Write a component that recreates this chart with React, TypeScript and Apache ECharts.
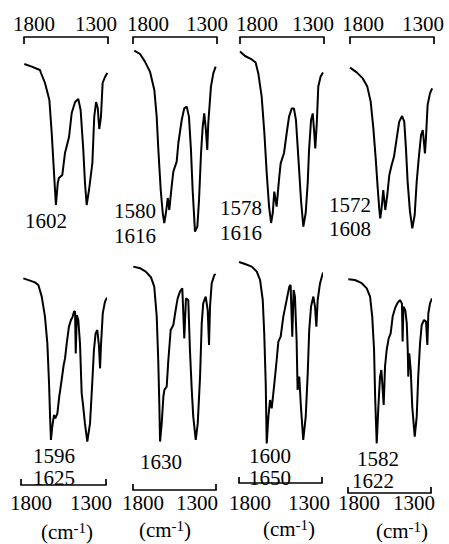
import React, { useEffect, useRef } from "react";
import * as echarts from "echarts";

// Spectra: [wavenumber (cm-1), relative transmittance]
const spectrum1 = [[1798,88],[1754,86.7],[1705,85],[1699,83.5],[1675,78.5],[1649,70],[1635,53.5],[1620,31.5],[1610,17.5],[1599,28.5],[1592,31],[1572,32.5],[1556,43.5],[1532,51.5],[1516,63.5],[1496,69],[1477,70.5],[1463,65],[1447,45],[1437,28.5],[1427,17.5],[1413,25],[1393,38.5],[1382,61.5],[1371,69],[1361,66],[1352,55.5],[1342,61.5],[1332,78.5],[1318,81.5],[1304,83.5]];
const spectrum2 = [[1792,94.7],[1758,93],[1729,89.2],[1699,84.2],[1673,75],[1659,61.7],[1649,45],[1635,25],[1623,13.5],[1614,8.5],[1604,13.5],[1593,21],[1584,15],[1570,26.7],[1560,34.2],[1540,39.2],[1530,48.5],[1510,60],[1495,65.8],[1480,66.7],[1467,61.7],[1455,45],[1445,25],[1431,4.2],[1417,6.7],[1407,20],[1395,43.5],[1385,56.7],[1376,63.3],[1366,55],[1358,45],[1352,58.3],[1336,76.7],[1322,83.3],[1308,86.7]];
const spectrum3 = [[1800,94.2],[1770,92],[1730,90.3],[1707,88.7],[1691,83.3],[1671,71.7],[1655,53.5],[1641,33.5],[1627,16.7],[1615,8.5],[1605,13.5],[1596,24.2],[1582,16.7],[1568,30],[1558,38.3],[1538,43.5],[1522,53.5],[1508,61.7],[1492,65.8],[1479,65.8],[1467,60],[1453,41.7],[1437,20],[1423,6.7],[1409,13.5],[1397,28.5],[1389,45],[1377,60],[1367,63.3],[1358,53.5],[1352,45.8],[1343,58.3],[1334,76.7],[1320,81.7],[1306,83.7]];
const spectrum4 = [[1800,86.2],[1760,83.8],[1724,80.8],[1697,76.7],[1677,69.2],[1661,55.8],[1647,40.8],[1635,25.8],[1626,15.8],[1620,10.8],[1612,15.8],[1602,25],[1590,15],[1578,22.5],[1566,32.5],[1552,37.5],[1538,41.7],[1522,50.8],[1507,59.2],[1490,62],[1477,59.2],[1467,45.8],[1457,29.2],[1443,14.2],[1429,5.8],[1415,12.5],[1403,29.2],[1389,42.5],[1377,52.5],[1367,55],[1360,49.2],[1354,43.3],[1348,50.8],[1338,67.5],[1324,73.3],[1311,75.8]];
const spectrum5 = [[1786,91.8],[1747,90.7],[1718,89.8],[1698,88.5],[1678,82.7],[1659,72.7],[1645,59.3],[1635,39.3],[1629,22.7],[1624,11],[1616,17.7],[1606,23.5],[1598,21.8],[1586,24.3],[1575,32.7],[1561,41],[1549,48.5],[1541,51.8],[1531,59.3],[1518,67.7],[1506,71],[1496,72.7],[1488,75.2],[1482,75.2],[1478,54.3],[1472,73.5],[1463,71],[1453,59.3],[1443,34.3],[1434,27.7],[1424,19.3],[1410,10.2],[1394,19.3],[1381,39.3],[1371,56],[1361,64.3],[1351,66],[1341,57.7],[1335,46.8],[1329,59.3],[1319,74.3],[1306,80.2],[1294,82.2]];
const spectrum6 = [[1798,97.7],[1758,96.9],[1723,95.2],[1692,92.4],[1672,87.7],[1657,72.7],[1648,51],[1642,31],[1637,10.2],[1627,19.3],[1617,32.7],[1611,36],[1597,37.7],[1587,51],[1573,66],[1557,68.5],[1543,76],[1531,81.8],[1517,85.2],[1503,86.8],[1491,61.8],[1481,81.8],[1467,81],[1457,56],[1446,36],[1437,22.7],[1422,11],[1410,19.3],[1396,42.7],[1386,69.3],[1377,79.3],[1362,82.7],[1350,76],[1342,58.5],[1336,77.7],[1326,89.3],[1310,93.5],[1302,94]];
const spectrum7 = [[1800,100],[1764,99],[1723,97.7],[1693,95.2],[1673,91],[1657,81],[1648,64.3],[1639,39.3],[1633,9.3],[1623,22.7],[1613,31],[1603,26.8],[1589,37.7],[1573,51],[1563,60.2],[1549,62.7],[1533,72.7],[1513,81],[1497,87.7],[1489,88.5],[1479,62.7],[1471,86],[1463,82.7],[1453,61],[1447,36],[1437,42.7],[1427,27.7],[1413,11],[1398,22.7],[1386,44.3],[1377,66],[1366,77.7],[1352,82.7],[1342,77.7],[1334,67.7],[1326,81],[1312,89.3],[1294,94.7]];
const spectrum8 = [[1798,91.4],[1758,91],[1717,89.4],[1687,86.8],[1667,82.7],[1654,72.7],[1643,56],[1636,31],[1627,9.3],[1617,27.7],[1607,42.7],[1599,46],[1591,36],[1585,28.5],[1577,47.7],[1567,56],[1555,61.8],[1543,64.3],[1531,72.7],[1517,76.8],[1503,79.3],[1487,81],[1475,79.3],[1471,60.2],[1466,77.7],[1455,76],[1446,69.3],[1440,56],[1437,42.7],[1431,54.3],[1422,46],[1413,27.7],[1398,12.7],[1386,22.7],[1377,42.7],[1366,59.3],[1356,68.5],[1342,71],[1330,70.2],[1322,58.5],[1316,74.3],[1306,79.3],[1294,81.8]];

// Text
const scaleLabels = ["1800", "1300"];
const peakLabels1 = ["1602"];
const peakLabels2 = ["1580", "1616"];
const peakLabels3 = ["1578", "1616"];
const peakLabels4 = ["1572", "1608"];
const peakLabels5 = ["1596", "1625"];
const peakLabels6 = ["1630"];
const peakLabels7 = ["1600", "1650"];
const peakLabels8 = ["1582", "1622"];
const unitLabel = "{a|(cm}{s|-1}{a|)}";

const FONT = "'Liberation Serif', 'DejaVu Serif', serif";

export default function App() {
  const ref = useRef<HTMLDivElement>(null);
  useEffect(() => {
    const chart = echarts.init(ref.current!, null, { renderer: "svg" });
    const panels = [
      { data: spectrum1, left: 24, width: 84, row: 0, offset: 3 },
      { data: spectrum2, left: 133, width: 84, row: 0, offset: 3 },
      { data: spectrum3, left: 240, width: 84, row: 0, offset: 3 },
      { data: spectrum4, left: 350, width: 84, row: 0, offset: 3 },
      { data: spectrum5, left: 21, width: 85, row: 1, offset: 23 },
      { data: spectrum6, left: 133, width: 83, row: 1, offset: 28 },
      { data: spectrum7, left: 239, width: 83, row: 1, offset: 21 },
      { data: spectrum8, left: 348, width: 83, row: 1, offset: 31 },
    ];
    const grid = panels.map((p) => ({
      left: p.left,
      width: p.width,
      top: p.row === 0 ? 40 : 262,
      height: 200,
    }));
    const xAxis = panels.map((p, i) => ({
      type: "value",
      gridIndex: i,
      min: 1300,
      max: 1800,
      interval: 500,
      inverse: true,
      position: p.row === 0 ? "top" : "bottom",
      offset: p.offset,
      axisLine: { show: true, onZero: false, lineStyle: { color: "#000", width: 1.7 } },
      axisTick: { show: true, inside: true, length: p.row === 0 ? 7 : 6, lineStyle: { color: "#000", width: 1.7 } },
      axisLabel: { show: false },
      splitLine: { show: false },
    }));
    const yAxis = panels.map((p, i) => ({
      type: "value",
      gridIndex: i,
      min: 0,
      max: 100,
      show: false,
      splitLine: { show: false },
    }));
    const series = panels.map((p, i) => ({
      type: "line",
      xAxisIndex: i,
      yAxisIndex: i,
      data: p.data,
      symbol: "none",
      showSymbol: false,
      clip: false,
      lineStyle: { color: "#000", width: 2 },
    }));

    const txt = (text: string, x: number, y: number) => ({
      type: "text",
      x,
      y,
      style: { text, fill: "#000", font: `21px ${FONT}`, align: "center", verticalAlign: "middle" },
    });
    const unit = (x: number, y: number) => ({
      type: "text",
      x,
      y,
      style: {
        text: unitLabel,
        fill: "#000",
        align: "center",
        verticalAlign: "middle",
        rich: {
          a: { fontSize: 21, fontFamily: FONT, lineHeight: 24, fill: "#000" },
          s: { fontSize: 15, fontFamily: FONT, lineHeight: 15, verticalAlign: "top", fill: "#000" },
        },
      },
    });

    const graphic: any[] = [];
    const topScale = [[34, 96], [148, 207], [257, 313], [363, 423]];
    topScale.forEach(([a, b]) => {
      graphic.push(txt(scaleLabels[0], a, 24));
      graphic.push(txt(scaleLabels[1], b, 24));
    });
    const botScale = [[31, 91], [143, 197], [250, 309], [359, 414]];
    botScale.forEach(([a, b]) => {
      graphic.push(txt(scaleLabels[0], a, 503));
      graphic.push(txt(scaleLabels[1], b, 503));
    });
    [[67, 532], [165, 530], [289, 529], [402, 531]].forEach(([x, y]) => graphic.push(unit(x, y)));

    graphic.push(txt(peakLabels1[0], 46, 221));
    graphic.push(txt(peakLabels2[0], 135, 211));
    graphic.push(txt(peakLabels2[1], 135, 236));
    graphic.push(txt(peakLabels3[0], 241, 208));
    graphic.push(txt(peakLabels3[1], 241, 233));
    graphic.push(txt(peakLabels4[0], 350, 205));
    graphic.push(txt(peakLabels4[1], 350, 229));
    graphic.push(txt(peakLabels5[0], 54, 456));
    graphic.push(txt(peakLabels5[1], 54, 478));
    graphic.push(txt(peakLabels6[0], 161, 462));
    graphic.push(txt(peakLabels7[0], 270, 456));
    graphic.push(txt(peakLabels7[1], 270, 478));
    graphic.push(txt(peakLabels8[0], 378, 459));
    graphic.push(txt(peakLabels8[1], 373, 481));

    chart.setOption({
      animation: false,
      backgroundColor: "#fff",
      grid,
      xAxis,
      yAxis,
      series,
      graphic,
    } as any);
    return () => chart.dispose();
  }, []);
  return (
    <div
      ref={ref}
      style={{ position: "fixed", left: 0, top: 0, width: 449, height: 544, background: "#fff" }}
    />
  );
}
